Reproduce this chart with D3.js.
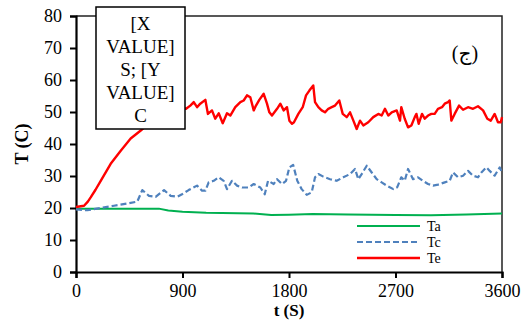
<!DOCTYPE html>
<html>
<head>
<meta charset="utf-8">
<script src="https://cdn.jsdelivr.net/npm/d3@7"></script>
<style>
  body { margin: 0; background: #fff; }
  text { font-family: "Liberation Serif", "Times New Roman", serif; fill: #000; }
</style>
</head>
<body>
<div id="chart"></div>
<script>
// data: [t (S), T (C)]
const taData = [[0,19.8],[700,19.8],[780,19.2],[900,18.8],[1100,18.5],[1500,18.3],[1650,17.8],[1800,17.9],
  [2000,18.1],[2300,18.0],[2700,17.8],[3000,17.7],[3300,18.0],[3600,18.3]];

const tcData = [[0,19.6],[95,19.3],[209,20.0],[321,20.7],[434,21.4],[518,22.0],[560,25.6],[617,23.8],[673,23.5],
  [744,25.6],[800,23.8],[856,23.5],[896,24.3],[952,25.6],[1023,27.0],[1065,25.4],[1093,25.4],[1121,28.0],
  [1164,28.5],[1206,29.6],[1248,28.5],[1276,25.9],[1318,28.5],[1361,27.0],[1403,26.4],[1459,26.4],[1502,27.5],
  [1558,26.4],[1595,24.3],[1623,28.5],[1671,27.5],[1699,29.0],[1741,27.5],[1775,28.5],[1803,32.7],[1835,33.5],
  [1870,28.5],[1907,25.9],[1950,24.1],[1992,24.9],[2020,29.6],[2048,30.6],[2090,29.8],[2147,29.0],[2203,28.5],
  [2259,29.6],[2316,30.6],[2358,32.2],[2386,29.0],[2414,30.6],[2457,33.2],[2499,31.1],[2541,29.0],[2583,28.0],
  [2626,27.0],[2682,25.9],[2715,26.5],[2749,29.6],[2778,28.5],[2806,32.2],[2848,29.0],[2890,29.6],[2932,28.5],
  [2975,27.5],[3017,27.0],[3059,27.3],[3116,28.0],[3158,28.5],[3186,31.1],[3228,29.6],[3271,30.1],[3313,31.6],
  [3355,30.1],[3397,29.6],[3426,31.1],[3468,32.7],[3496,31.6],[3538,30.1],[3581,32.7],[3600,31.1]];

const teData = [[0,20.3],[68,20.7],[100,22.0],[124,23.3],[165,25.7],[209,28.5],[293,33.8],[378,37.9],[462,41.7],
  [547,44.2],[620,46.5],
  [680,48.5],[740,50.0],[800,49.0],[860,51.5],[930,51.0],[966,52.0],[995,53.1],[1023,51.5],[1050,52.6],
  [1093,53.8],[1115,49.4],[1149,50.5],[1177,47.9],[1206,49.6],[1240,46.5],[1276,49.6],[1304,48.9],[1346,51.5],
  [1389,53.1],[1417,53.6],[1445,55.2],[1473,54.6],[1502,50.5],[1521,52.0],[1549,53.8],[1586,55.7],[1614,52.6],
  [1634,49.9],[1656,48.9],[1699,51.0],[1727,52.6],[1755,50.5],[1783,51.5],[1803,47.3],[1825,46.3],[1842,46.8],
  [1879,49.4],[1916,51.5],[1944,55.2],[1972,56.7],[2005,58.3],[2020,53.1],[2048,51.5],[2076,50.5],[2104,49.9],
  [2132,51.0],[2161,51.5],[2189,52.0],[2225,53.6],[2254,49.4],[2288,48.4],[2316,49.9],[2344,47.3],[2372,44.7],
  [2400,47.3],[2428,45.8],[2470,46.8],[2512,48.4],[2555,49.4],[2583,48.9],[2611,51.0],[2639,48.9],[2668,49.9],
  [2710,50.5],[2738,47.3],[2749,51.5],[2778,47.9],[2806,45.2],[2834,45.8],[2863,48.4],[2877,49.4],[2896,46.3],
  [2924,49.4],[2947,47.9],[2975,48.9],[3003,49.4],[3031,49.4],[3059,51.0],[3093,51.5],[3116,52.6],[3144,53.1],
  [3158,53.6],[3172,47.3],[3200,49.4],[3237,52.0],[3271,50.7],[3313,51.5],[3355,51.0],[3397,51.8],[3440,50.5],
  [3476,47.9],[3505,47.3],[3538,49.4],[3566,46.8],[3590,46.8],[3600,48.4]];

const xTicks = [0, 900, 1800, 2700, 3600];
const yTicks = [0, 10, 20, 30, 40, 50, 60, 70, 80];
const seriesNames = ["Ta", "Tc", "Te"];
const annotationLines = ["[X", "VALUE]", "S; [Y", "VALUE]", "C"];

const width = 524, height = 320;
const plotLeft = 76, plotRight = 502, plotTop = 16, plotBottom = 272;

const svg = d3.select("#chart").append("svg")
  .attr("width", width)
  .attr("height", height);

const x = d3.scaleLinear().domain([0, 3600]).range([plotLeft, plotRight]);
const y = d3.scaleLinear().domain([0, 80]).range([plotBottom, plotTop]);

// frame top + right
svg.append("path")
  .attr("d", `M${plotLeft},${plotTop}H${plotRight}V${plotBottom}`)
  .attr("fill", "none")
  .attr("stroke", "#222")
  .attr("stroke-width", 1.5);

// axes
const yAxis = svg.append("g")
  .attr("transform", `translate(${plotLeft},0)`)
  .call(d3.axisLeft(y).tickValues(yTicks).tickFormat(d3.format("d")).tickSize(6).tickPadding(8));
const xAxis = svg.append("g")
  .attr("transform", `translate(0,${plotBottom})`)
  .call(d3.axisBottom(x).tickValues(xTicks).tickFormat(d3.format("d")).tickSize(6).tickPadding(6));

[xAxis, yAxis].forEach(a => {
  a.select(".domain").attr("stroke", "#000").attr("stroke-width", 2.2);
  a.selectAll(".tick line").attr("stroke", "#000").attr("stroke-width", 2);
  a.selectAll(".tick text")
    .style("font-family", '"Liberation Serif", "Times New Roman", serif')
    .style("font-size", "18px")
    .attr("fill", "#000");
});

// axis titles
svg.append("text")
  .attr("x", (plotLeft + plotRight) / 2)
  .attr("y", 316)
  .attr("text-anchor", "middle")
  .style("font-size", "17px")
  .style("font-weight", "bold")
  .text("t (S)");

svg.append("text")
  .attr("transform", `translate(28,${(plotTop + plotBottom) / 2}) rotate(-90)`)
  .attr("text-anchor", "middle")
  .style("font-size", "18px")
  .style("font-weight", "bold")
  .text("T (C)");

// lines
const line = d3.line().x(d => x(d[0])).y(d => y(d[1]));
const styles = {
  Ta: { data: taData, color: "#00b050", width: 2, dash: null },
  Tc: { data: tcData, color: "#4f81bd", width: 2.2, dash: "6,3" },
  Te: { data: teData, color: "#ff0000", width: 2.4, dash: null }
};

seriesNames.forEach(name => {
  const s = styles[name];
  svg.append("path")
    .datum(s.data)
    .attr("d", line)
    .attr("fill", "none")
    .attr("stroke", s.color)
    .attr("stroke-width", s.width)
    .attr("stroke-linejoin", "round")
    .attr("stroke-dasharray", s.dash);
});

// legend
const legend = svg.append("g").attr("transform", "translate(357,226)");
seriesNames.forEach((name, i) => {
  const s = styles[name];
  const g = legend.append("g").attr("transform", `translate(0,${i * 16})`);
  g.append("line")
    .attr("x1", 0).attr("x2", 63)
    .attr("stroke", s.color)
    .attr("stroke-width", s.width)
    .attr("stroke-dasharray", s.dash);
  g.append("text")
    .attr("x", 70).attr("y", 5)
    .style("font-size", "14px")
    .text(name);
});

// data label box
const box = svg.append("g").attr("transform", "translate(96,7)");
box.append("rect")
  .attr("width", 89).attr("height", 122)
  .attr("fill", "#fff")
  .attr("stroke", "#000")
  .attr("stroke-width", 1.5);
box.selectAll("text")
  .data(annotationLines)
  .enter().append("text")
  .attr("x", 44.5)
  .attr("y", (d, i) => 23 + i * 23)
  .attr("text-anchor", "middle")
  .style("font-size", "19px")
  .text(d => d);

// panel letter
svg.append("text")
  .attr("x", 465)
  .attr("y", 60)
  .attr("text-anchor", "middle")
  .style("font-size", "20px")
  .style("font-family", '"Liberation Serif", "DejaVu Serif", "DejaVu Sans", serif')
  .text("(ج)");
</script>
</body>
</html>
